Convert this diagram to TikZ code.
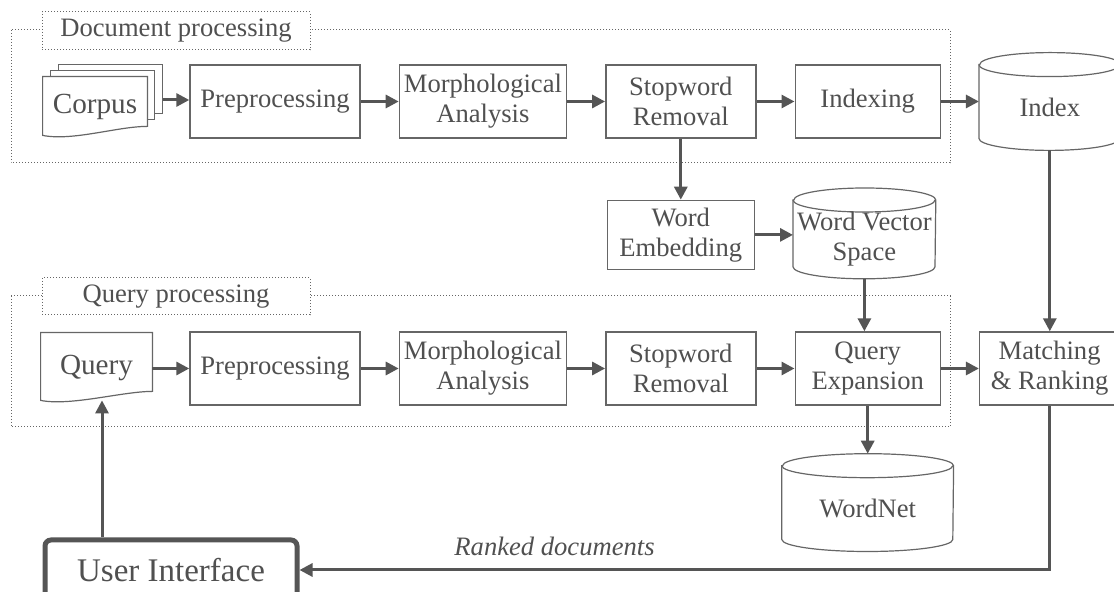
\documentclass[tikz,border=0pt]{standalone}
\usepackage{fontspec}
\setmainfont{Liberation Serif}
\usetikzlibrary{arrows.meta,positioning,backgrounds}

\definecolor{linegray}{HTML}{555555}
\definecolor{boxgray}{HTML}{666666}
\definecolor{textgray}{HTML}{505050}

\begin{document}
\begin{tikzpicture}[x=0.5pt,y=-0.5pt,node distance=19pt,
		proc node/.style={rectangle,draw=boxgray,line width=0.7pt,fill=white,
			text=textgray,align=center,minimum height=36.5pt,inner sep=1pt,
			font=\fontsize{13.3}{15}\selectfont},
		db node/.style={rectangle,text=textgray,align=center,inner sep=0pt,
			font=\fontsize{13.3}{15}\selectfont},
		doc node/.style={rectangle,inner sep=0pt,text=textgray,
			font=\fontsize{14.6}{16}\selectfont},
		doc line/.style={draw=boxgray,line width=0.6pt,fill=white},
		group box/.style={draw=boxgray,densely dotted,line width=0.5pt},
		group label/.style={rectangle,draw=boxgray,densely dotted,line width=0.5pt,
			fill=white,text=textgray,inner sep=0pt,minimum width=134pt,
			font=\fontsize{13.3}{15}\selectfont},
		ui node/.style={rectangle,draw=linegray,line width=2.5pt,rounded corners=3pt,
			fill=white,text=textgray,minimum width=126pt,minimum height=30pt,
			font=\fontsize{16.5}{18}\selectfont},
		flow/.style={draw=linegray,line width=1.5pt,
			-{Triangle[length=6.5pt,width=6.5pt]}}]
	\useasboundingbox (0,0) rectangle (1114,592);
	
	% document processing
	\draw[group box] (11,30) rectangle (950,163);
	\node[group label,minimum height=19pt] (doclabel) at (176,31) {Document processing};
	
	\node[doc node,minimum width=52pt,minimum height=30pt] (corpus) at (95,107) {Corpus};
	\coordinate (corpusout) at ([shift={(16,-7)}]corpus.east);
	\node[proc node,minimum width=85pt] (preA) at (275,101.5) {Preprocessing};
	\node[proc node,minimum width=83.5pt,right=of preA] (morA) {Morphological\\Analysis};
	\node[proc node,minimum width=75pt,right=of morA] (stopA) {Stopword\\Removal};
	\node[proc node,minimum width=72.5pt,right=of stopA] (idxA) {Indexing};
	\node[db node,minimum width=70.5pt,minimum height=42.5pt,right=of idxA,yshift=-3pt] (index) {Index};
	
	% word embedding
	\node[proc node,minimum width=73.5pt,minimum height=34.5pt,below=30.5pt of stopA] (embed) {Word\\Embedding};
	\node[db node,minimum width=71pt,minimum height=39pt,right=of embed,yshift=-2.25pt] (wvs) {Word Vector\\Space};
	
	% query processing
	\draw[group box] (11,296) rectangle (950,427);
	\node[group label,minimum height=18.5pt] (qrylabel) at (176,296.5) {Query processing};
	
	\node[doc node,minimum width=55.5pt,minimum height=35pt] (query) at (96.5,368) {Query};
	\coordinate (queryin) at ([shift={(5.5,-3)}]query.south);
	\node[proc node,minimum width=85pt] (preB) at (275,368.5) {Preprocessing};
	\node[proc node,minimum width=83.5pt,right=of preB] (morB) {Morphological\\Analysis};
	\node[proc node,minimum width=75pt,right=of morB] (stopB) {Stopword\\Removal};
	\node[proc node,minimum width=72.5pt,right=of stopB] (qexp) {Query\\Expansion};
	\node[proc node,minimum width=70pt,right=of qexp] (match) {Matching\\\& Ranking};
	\node[db node,minimum width=85.5pt,minimum height=42.5pt,below=30pt of qexp] (wordnet) {WordNet};
	
	\node[ui node] (ui) at (171,570) {User Interface};
	
	% document and database shapes
	\begin{scope}[on background layer]
		\draw[doc line] ([shift={(16,-12)}]corpus.north west) rectangle +(104,49);
		\draw[doc line] ([shift={(8,-6)}]corpus.north west) rectangle +(104,49);
		\foreach \d/\a/\b in {corpus/2/11,query/3/12}
			\draw[doc line] (\d.north west) -- ([shift={(0,-\a)}]\d.south west)
				.. controls +(30,6) and +(-30,0) .. ([shift={(0,-\b)}]\d.south east)
				-- (\d.north east) -- cycle;
		\foreach \c/\r in {index/35.25pt,wvs/35.5pt,wordnet/42.75pt} {
			\draw[doc line] (\c.north west) -- ([shift={(0,-12)}]\c.south west)
				arc[start angle=180,end angle=360,x radius=\r,y radius=6pt]
				-- (\c.north east)
				arc[start angle=0,end angle=180,x radius=\r,y radius=6pt] -- cycle;
			\draw[doc line,fill=none] (\c.north west)
				arc[start angle=180,end angle=360,x radius=\r,y radius=6pt];
		}
	\end{scope}
	
	\draw[flow] (corpusout) -- (corpusout -| preA.west);
	\draw[flow] (preA) -- (morA);
	\draw[flow] (morA) -- (stopA);
	\draw[flow] (stopA) -- (idxA);
	\draw[flow] (idxA) -- (idxA -| index.west);
	\draw[flow] (stopA) -- (embed);
	\draw[flow] (embed) -- (embed -| wvs.west);
	\draw[flow] (wvs.south) -- (wvs.south |- qexp.north);
	\draw[flow] (index.south) -- (index.south |- match.north);
	
	\draw[flow] (query.east |- preB) -- (preB);
	\draw[flow] (preB) -- (morB);
	\draw[flow] (morB) -- (stopB);
	\draw[flow] (stopB) -- (qexp);
	\draw[flow] (qexp) -- (match);
	\draw[flow] (qexp.south) -- ([yshift=6pt]wordnet.north);
	
	\draw[flow] (match.south) |- (ui.east)
		node[pos=0.83,above=3pt,text=textgray,font=\fontsize{13.3}{15}\selectfont\itshape] {Ranked documents};
	\draw[flow] (ui.north -| queryin) -- (queryin);
\end{tikzpicture}
\end{document}
